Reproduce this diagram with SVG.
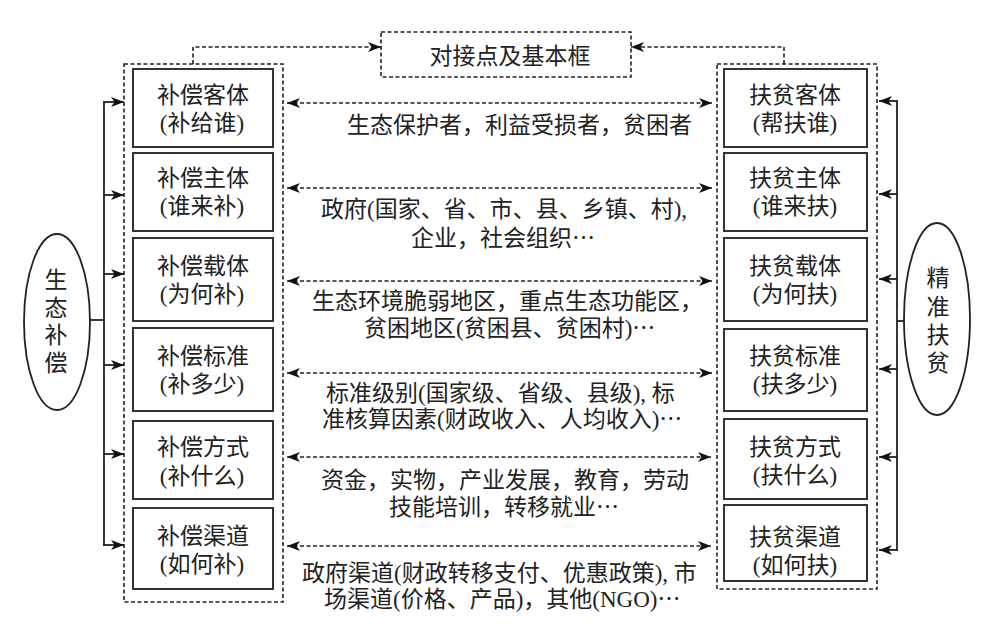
<svg xmlns="http://www.w3.org/2000/svg" width="1000" height="637" viewBox="0 0 1000 637">
<defs>
<marker id="ah" markerUnits="userSpaceOnUse" markerWidth="14" markerHeight="12" refX="13" refY="5" orient="auto-start-reverse" viewBox="0 0 14 10">
<path d="M0,0 L13,5 L0,10 L3.5,5 Z" fill="#111"/>
</marker>
</defs>
<style>
text{font-family:"Liberation Serif","Noto Sans CJK SC",serif;font-size:23px;fill:#222}
.c{text-anchor:middle}
.el{font-family:"Noto Sans CJK SC",sans-serif}
.box{fill:#fff;stroke:#333;stroke-width:2}
.dbox{fill:none;stroke:#222;stroke-width:1.6;stroke-dasharray:4 2.5}
.dl{fill:none;stroke:#222;stroke-width:1.6;stroke-dasharray:4 2.5}
.sl{fill:none;stroke:#222;stroke-width:1.8}
.ell{fill:#fff;stroke:#222;stroke-width:1.8}
</style>
<rect width="1000" height="637" fill="#fff"/>

<g id="containers">
<rect class="dbox" x="124" y="64" width="159" height="538"/>
<rect class="dbox" x="717" y="64" width="160" height="525"/>
</g>

<g id="connectors">
<polyline class="dl" points="193,64 193,47 381,47" marker-end="url(#ah)"/>
<polyline class="dl" points="784,64 784,47 631,47" marker-end="url(#ah)"/>
<line class="dl" x1="287" y1="103" x2="712" y2="103" marker-start="url(#ah)" marker-end="url(#ah)"/>
<line class="dl" x1="287" y1="188" x2="712" y2="188" marker-start="url(#ah)" marker-end="url(#ah)"/>
<line class="dl" x1="287" y1="281" x2="712" y2="281" marker-start="url(#ah)" marker-end="url(#ah)"/>
<line class="dl" x1="287" y1="373" x2="712" y2="373" marker-start="url(#ah)" marker-end="url(#ah)"/>
<line class="dl" x1="287" y1="457" x2="711" y2="457" marker-start="url(#ah)" marker-end="url(#ah)"/>
<line class="dl" x1="287" y1="546" x2="711" y2="546" marker-start="url(#ah)" marker-end="url(#ah)"/>
<line class="sl" x1="90" y1="320" x2="104" y2="320"/>
<line class="sl" x1="104" y1="102" x2="104" y2="546"/>
<line class="sl" x1="103" y1="102" x2="124" y2="102" marker-end="url(#ah)"/>
<line class="sl" x1="103" y1="195" x2="124" y2="195" marker-end="url(#ah)"/>
<line class="sl" x1="103" y1="274" x2="124" y2="274" marker-end="url(#ah)"/>
<line class="sl" x1="103" y1="365" x2="124" y2="365" marker-end="url(#ah)"/>
<line class="sl" x1="103" y1="454" x2="124" y2="454" marker-end="url(#ah)"/>
<line class="sl" x1="103" y1="545" x2="124" y2="545" marker-end="url(#ah)"/>
<line class="sl" x1="897" y1="321" x2="905" y2="321"/>
<line class="sl" x1="897" y1="101" x2="897" y2="551"/>
<line class="sl" x1="898" y1="101" x2="879" y2="101" marker-end="url(#ah)"/>
<line class="sl" x1="898" y1="194" x2="879" y2="194" marker-end="url(#ah)"/>
<line class="sl" x1="898" y1="279" x2="879" y2="279" marker-end="url(#ah)"/>
<line class="sl" x1="898" y1="369" x2="879" y2="369" marker-end="url(#ah)"/>
<line class="sl" x1="898" y1="457" x2="879" y2="457" marker-end="url(#ah)"/>
<line class="sl" x1="898" y1="550" x2="879" y2="550" marker-end="url(#ah)"/>
</g>

<g id="top">
<rect class="dbox" x="381" y="32" width="250" height="45"/>
<text class="c" x="510" y="64">对接点及基本框</text>
</g>

<g id="eco">
<ellipse class="ell" cx="57" cy="322" rx="33" ry="88"/>
<text class="c" x="56" y="287.5">生</text>
<text class="c" x="56" y="315.5">态</text>
<text class="c" x="56" y="343">补</text>
<text class="c" x="56" y="371">偿</text>
</g>

<g id="poverty">
<ellipse class="ell" cx="937" cy="319" rx="33" ry="96"/>
<text class="c" x="938" y="286">精</text>
<text class="c" x="938" y="315">准</text>
<text class="c" x="938" y="343">扶</text>
<text class="c" x="938" y="371">贫</text>
</g>

<g id="L1"><rect class="box" x="133" y="69" width="140" height="78"/><text class="c" x="203" y="103">补偿客体</text><text class="c" x="202" y="131">(补给谁)</text></g>
<g id="L2"><rect class="box" x="133" y="153" width="140" height="78"/><text class="c" x="203" y="186">补偿主体</text><text class="c" x="202" y="214">(谁来补)</text></g>
<g id="L3"><rect class="box" x="133" y="238" width="140" height="83"/><text class="c" x="203" y="274">补偿载体</text><text class="c" x="202" y="302">(为何补)</text></g>
<g id="L4"><rect class="box" x="133" y="328" width="140" height="83"/><text class="c" x="203" y="364">补偿标准</text><text class="c" x="202" y="392">(补多少)</text></g>
<g id="L5"><rect class="box" x="133" y="421" width="140" height="78"/><text class="c" x="203" y="455">补偿方式</text><text class="c" x="202" y="484">(补什么)</text></g>
<g id="L6"><rect class="box" x="133" y="508" width="140" height="81"/><text class="c" x="203" y="544">补偿渠道</text><text class="c" x="202" y="572">(如何补)</text></g>

<g id="R1"><rect class="box" x="724" y="69" width="143" height="78"/><text class="c" x="795" y="103">扶贫客体</text><text class="c" x="795" y="131">(帮扶谁)</text></g>
<g id="R2"><rect class="box" x="724" y="153" width="143" height="78"/><text class="c" x="795" y="186">扶贫主体</text><text class="c" x="795" y="214">(谁来扶)</text></g>
<g id="R3"><rect class="box" x="724" y="238" width="143" height="83"/><text class="c" x="795" y="274">扶贫载体</text><text class="c" x="795" y="302">(为何扶)</text></g>
<g id="R4"><rect class="box" x="724" y="329" width="143" height="82"/><text class="c" x="795" y="364">扶贫标准</text><text class="c" x="795" y="392">(扶多少)</text></g>
<g id="R5"><rect class="box" x="724" y="419" width="143" height="80"/><text class="c" x="795" y="455">扶贫方式</text><text class="c" x="795" y="483">(扶什么)</text></g>
<g id="R6"><rect class="box" x="724" y="505" width="143" height="76"/><text class="c" x="795" y="545">扶贫渠道</text><text class="c" x="795" y="573">(如何扶)</text></g>

<g id="labels">
<text x="347" y="132.5">生态保护者，利益受损者，贫困者</text>
<text x="321" y="217">政府(国家、省、市、县、乡镇、村),</text>
<text x="411" y="246">企业，社会组织<tspan class="el">…</tspan></text>
<text x="312" y="309">生态环境脆弱地区，重点生态功能区，</text>
<text x="364" y="336">贫困地区(贫困县、贫困村)<tspan class="el">…</tspan></text>
<text x="326" y="401">标准级别(国家级、省级、县级), 标</text>
<text x="322" y="427">准核算因素(财政收入、人均收入)<tspan class="el">…</tspan></text>
<text x="321" y="488">资金，实物，产业发展，教育，劳动</text>
<text x="389" y="515">技能培训，转移就业<tspan class="el">…</tspan></text>
<text x="302" y="581">政府渠道(财政转移支付、优惠政策), 市</text>
<text x="324" y="607">场渠道(价格、产品)，其他(NGO)<tspan class="el">…</tspan></text>
</g>
</svg>
